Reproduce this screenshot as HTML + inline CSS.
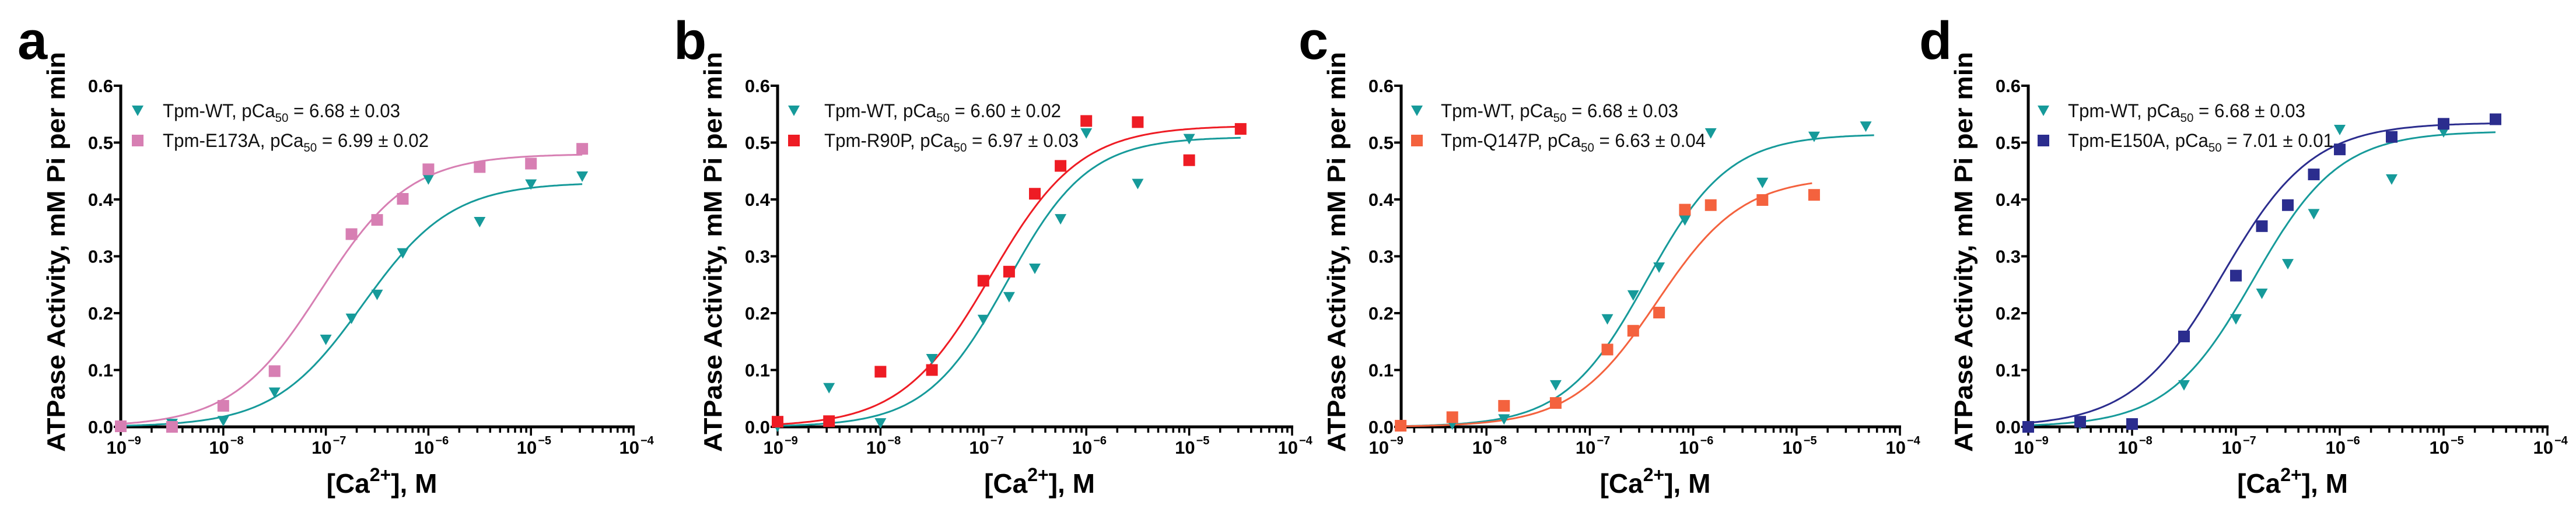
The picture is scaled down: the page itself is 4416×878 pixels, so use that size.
<!DOCTYPE html>
<html><head><meta charset="utf-8"><style>
html,body{margin:0;padding:0;background:#fff;}
svg{display:block;font-family:"Liberation Sans",sans-serif;}
</style></head><body>
<svg id="fig" width="4416" height="878" viewBox="0 0 4416 878" xmlns="http://www.w3.org/2000/svg"></svg>
<script>
// ---------- data (log10 [Ca2+] and ATPase activity) ----------
const xA = [-9,-8.5,-8,-7.5,-7,-6.75,-6.5,-6.25,-6,-5.5,-5,-4.5];
const aWT = [0,0.005,0.01,0.06,0.153,0.19,0.232,0.305,0.435,0.36,0.426,0.44];
const aMut = [0.001,0,0.037,0.098,null,0.339,0.364,0.401,0.453,0.457,0.463,0.489];
const xB = [-9,-8.5,-8,-7.5,-7,-6.75,-6.5,-6.25,-6,-5.5,-5,-4.5];
const bWT = [0,0.068,0.006,0.119,0.188,0.228,0.278,0.365,0.516,0.427,0.506,null];
const bMut = [0.009,0.01,0.097,0.1,0.257,0.273,0.41,0.459,0.538,0.536,0.469,0.524];
const xC = [-8.83,-8.33,-7.83,-7.33,-6.83,-6.58,-6.33,-6.08,-5.83,-5.33,-4.83,-4.33];
const cWT = [0.002,0.004,0.013,0.073,0.189,0.231,0.28,0.363,0.516,0.429,0.51,0.528];
const cMut = [0.002,0.017,0.037,0.042,0.136,0.169,0.201,0.382,0.39,0.399,0.408,null];
const xD = [-9,-8.5,-8,-7.5,-7,-6.75,-6.5,-6.25,-6,-5.5,-5,-4.5];
const dWT = [0,0.004,0.004,0.073,0.189,0.234,0.286,0.374,0.522,0.435,0.518,null];
const dMut = [0,0.009,0.005,0.159,0.266,0.353,0.39,0.444,0.488,0.51,0.533,0.541];
// fit parameters: [max, midpoint log10, hill, xStart, xEnd]
const fitAWT = [0.43,-6.64,1.0,-9,-4.5];
const fitAMut = [0.48,-7.05,1.0,-9,-4.5];
const fitBWT = [0.51,-6.77,1.1,-9,-4.5];
const fitBMut = [0.53,-6.93,1.0,-9,-4.5];
const fitCWT = [0.515,-6.45,1.09,-8.83,-4.25];
const fitCMut = [0.44,-6.35,1.05,-8.83,-4.85];
const fitDWT = [0.52,-6.83,1.05,-9,-4.5];
const fitDMut = [0.535,-7.13,1.0,-9,-4.5];
const yTicks = ["0.0","0.1","0.2","0.3","0.4","0.5","0.6"];
const xTickExps = [-9,-8,-7,-6,-5,-4];
const legendWT = ["6.68 ± 0.03","6.60 ± 0.02","6.68 ± 0.03","6.68 ± 0.03"];
const legendMut = [["Tpm-E173A","6.99 ± 0.02"],["Tpm-R90P","6.97 ± 0.03"],["Tpm-Q147P","6.63 ± 0.04"],["Tpm-E150A","7.01 ± 0.01"]];

// ---------- layout ----------
const NS="http://www.w3.org/2000/svg";
const svg=document.getElementById('fig');
const TEAL="#169a9a";
const panels=[
 {letter:"a",lx:30,ax:207,x9:207,dec:175.8,xmin:-9,xs:xA,wt:aWT,mut:aMut,fw:fitAWT,fm:fitAMut,col:"#d77fb3",mx:236,tx:279,w1:407,w2:456},
 {letter:"b",lx:1155,ax:1333,x9:1333,dec:176.4,xmin:-9,xs:xB,wt:bWT,mut:bMut,fw:fitBWT,fm:fitBMut,col:"#ee1c24",mx:1361,tx:1413,w1:406,w2:436},
 {letter:"c",lx:2226,ax:2402,x9:2371,dec:177.2,xmin:-8.825,xs:xC,wt:cWT,mut:cMut,fw:fitCWT,fm:fitCMut,col:"#f4623e",mx:2429,tx:2470,w1:407,w2:454},
 {letter:"d",lx:3290,ax:3477,x9:3477,dec:178,xmin:-9,xs:xD,wt:dWT,mut:dMut,fw:fitDWT,fm:fitDMut,col:"#2b2d8e",mx:3503,tx:3545,w1:407,w2:455}
];
const Y0=732, YUNIT=975;
function el(tag,attrs,parent){const e=document.createElementNS(NS,tag);for(const k in attrs)e.setAttribute(k,attrs[k]);(parent||svg).appendChild(e);return e;}

panels.forEach((p,pi)=>{
  const g=el('g',{});
  
  
  const X=v=>p.x9+(v+9)*p.dec;
  const Y=v=>Y0-v*YUNIT;
  const xEnd=X(-4);
  const L=el('text',{x:p.lx,y:101,'font-size':92,'font-weight':'bold',fill:'#000'},g);
  L.textContent=p.letter;
  
  
  const yt=el('text',{transform:`translate(${p.ax-96},432) rotate(-90)`,'text-anchor':'middle','font-size':44,'font-weight':'bold',textLength:686,lengthAdjust:'spacingAndGlyphs',fill:'#000'},g);
  yt.textContent="ATPase Activity, mM Pi per min";
  
  
  const xt=el('text',{x:(p.ax+xEnd)/2+8,y:845,'text-anchor':'middle','font-size':46,'font-weight':'bold',fill:'#000'},g);
  xt.innerHTML='[Ca<tspan dy="-20" font-size="32">2+</tspan><tspan dy="20">], M</tspan>';
  
  
  const ya=el('line',{x1:p.ax,y1:Y(0)+2,x2:p.ax,y2:Y(0.6)-2,stroke:'#000','stroke-width':5},g);
  
  
  const xa=el('line',{x1:p.ax-2,y1:Y0,x2:xEnd+2,y2:Y0,stroke:'#000','stroke-width':5},g);
  
  
  yTicks.forEach((t,i)=>{
    const v=parseFloat(t);
    el('line',{x1:p.ax-12,y1:Y(v),x2:p.ax,y2:Y(v),stroke:'#000','stroke-width':4},g);
    const tl=el('text',{x:p.ax-13,y:Y(v)+11,'text-anchor':'end','font-size':31,'font-weight':'bold',fill:'#000'},g);
    tl.textContent=t;
    
    
  });
  for(let d=-9;d<-4;d++){
    for(let m=1;m<=9;m++){
      const lv=d+Math.log10(m);
      if(lv<p.xmin-0.001) continue;
      el('line',{x1:X(lv),y1:Y0,x2:X(lv),y2:Y0+(m===1?15:10),stroke:'#000','stroke-width':3.5},g);
    }
  }
  el('line',{x1:xEnd,y1:Y0,x2:xEnd,y2:Y0+15,stroke:'#000','stroke-width':3.5},g);
  xTickExps.forEach(e=>{
    const tl=el('text',{x:X(e)+10,y:778,'text-anchor':'end','font-size':31,'font-weight':'bold',fill:'#000'},g);
    tl.textContent="10";
    
    
    const sp=el('text',{x:X(e)+12,y:762,'font-size':20,'font-weight':'bold',fill:'#000'},g);
    sp.textContent="−"+(-e);
    
    
  });
  function curve(f,color,name){
    let d="";const n=200;
    for(let i=0;i<=n;i++){const lx=f[3]+(f[4]-f[3])*i/n;const v=f[0]/(1+Math.pow(10,f[2]*(f[1]-lx)));d+=(i?"L":"M")+X(lx).toFixed(1)+","+Y(v).toFixed(1);}
    const c=el('path',{d:d,fill:'none',stroke:color,'stroke-width':3},g);
    
    
  }
  curve(p.fw,TEAL,'fit-curve-wt');
  curve(p.fm,p.col,'fit-curve-mutant');
  function tri(cx,cy,color){return el('path',{d:`M${cx-10},${cy-9}L${cx+10},${cy-9}L${cx},${cy+9}Z`,fill:color},g);}
  function sq(cx,cy,color){return el('rect',{x:cx-10,y:cy-10,width:20,height:20,fill:color},g);}
  p.xs.forEach((xv,i)=>{
    if(p.wt[i]!==null){const m=tri(X(xv),Y(p.wt[i]),TEAL);
      
      }
  });
  p.xs.forEach((xv,i)=>{
    if(p.mut[i]!==null){const m=sq(X(xv),Y(p.mut[i]),p.col);
      
      }
  });
  const lt=tri(p.mx,190,TEAL);
  
  
  const ls=sq(p.mx,241,p.col);
  
  
  const t1=el('text',{x:p.tx,y:201,'font-size':32,fill:'#111',textLength:p.w1,lengthAdjust:'spacingAndGlyphs'},g);
  t1.innerHTML='Tpm-WT, pCa<tspan dy="8" font-size="21">50</tspan><tspan dy="-8"> = '+legendWT[pi]+'</tspan>';
  
  
  const t2=el('text',{x:p.tx,y:252,'font-size':32,fill:'#111',textLength:p.w2,lengthAdjust:'spacingAndGlyphs'},g);
  t2.innerHTML=legendMut[pi][0]+', pCa<tspan dy="8" font-size="21">50</tspan><tspan dy="-8"> = '+legendMut[pi][1]+'</tspan>';
  
  
});
</script>
</body></html>
